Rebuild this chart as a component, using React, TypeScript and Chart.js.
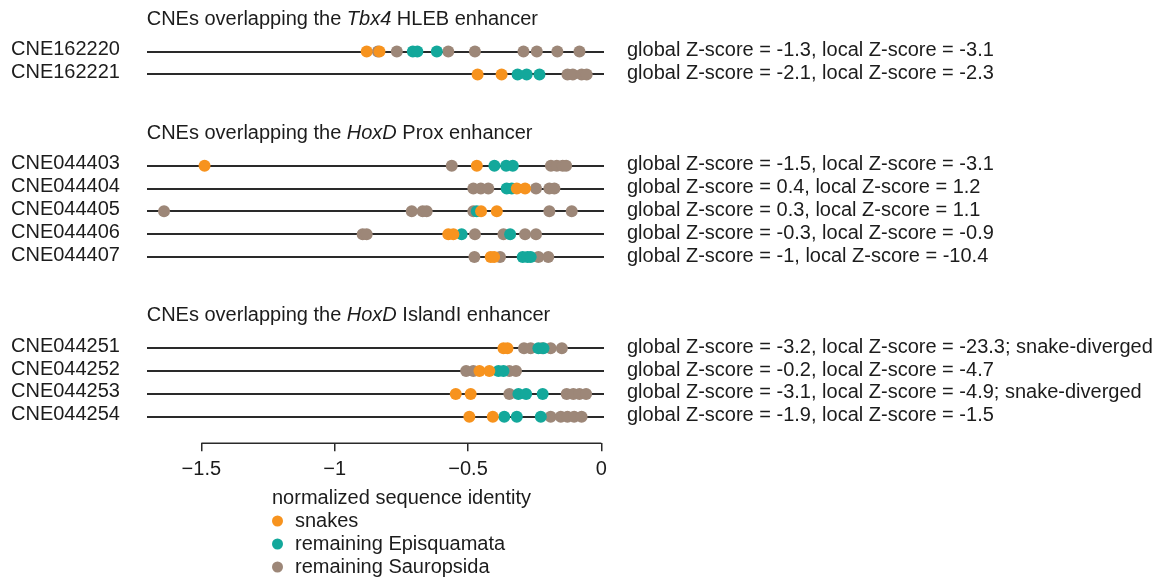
import { useEffect, useRef } from "react";
import { Chart, registerables } from "chart.js";

Chart.register(...registerables);

// Enhancer groups, each listing its CNE rows.
const groupGenes = ["Tbx4", "HoxD", "HoxD"];
const groupEnhancers = ["HLEB", "Prox", "IslandI"];
const groupSizes = [2, 5, 4];

const rowNames = [
  "CNE162220",
  "CNE162221",
  "CNE044403",
  "CNE044404",
  "CNE044405",
  "CNE044406",
  "CNE044407",
  "CNE044251",
  "CNE044252",
  "CNE044253",
  "CNE044254",
];

const zScoreNotes = [
  "global Z-score = -1.3, local Z-score = -3.1",
  "global Z-score = -2.1, local Z-score = -2.3",
  "global Z-score = -1.5, local Z-score = -3.1",
  "global Z-score = 0.4, local Z-score = 1.2",
  "global Z-score = 0.3, local Z-score = 1.1",
  "global Z-score = -0.3, local Z-score = -0.9",
  "global Z-score = -1, local Z-score = -10.4",
  "global Z-score = -3.2, local Z-score = -23.3; snake-diverged",
  "global Z-score = -0.2, local Z-score = -4.7",
  "global Z-score = -3.1, local Z-score = -4.9; snake-diverged",
  "global Z-score = -1.9, local Z-score = -1.5",
];

// Normalized sequence identity per species, one list per CNE row.
const snakes = [
  [-0.88, -0.832],
  [-0.464, -0.374],
  [-1.488, -0.467],
  [-0.317, -0.286],
  [-0.451, -0.392],
  [-0.574, -0.555],
  [-0.415, -0.402],
  [-0.367, -0.352],
  [-0.457, -0.42],
  [-0.546, -0.49],
  [-0.495, -0.407],
];

const episquamata = [
  [-0.707, -0.69, -0.617],
  [-0.314, -0.28, -0.232],
  [-0.401, -0.357, -0.332],
  [-0.355, -0.336],
  [-0.467],
  [-0.524, -0.342],
  [-0.295, -0.277, -0.265],
  [-0.236, -0.217],
  [-0.386, -0.367],
  [-0.311, -0.282, -0.22],
  [-0.364, -0.317, -0.227],
];

const sauropsida = [
  [-0.838, -0.767, -0.574, -0.474, -0.292, -0.242, -0.165, -0.082],
  [-0.127, -0.107, -0.074, -0.055],
  [-0.561, -0.189, -0.167, -0.145, -0.132],
  [-0.48, -0.452, -0.424, -0.245, -0.195, -0.176],
  [-1.64, -0.711, -0.67, -0.655, -0.48, -0.195, -0.111],
  [-0.895, -0.88, -0.474, -0.367, -0.286, -0.245],
  [-0.476, -0.38, -0.236, -0.199],
  [-0.29, -0.265, -0.222, -0.19, -0.148],
  [-0.507, -0.48, -0.345, -0.32],
  [-0.345, -0.13, -0.105, -0.082, -0.057],
  [-0.19, -0.152, -0.127, -0.102, -0.074],
];

const xTicks = [-1.5, -1, -0.5, 0];

const seriesNames = ["snakes", "remaining Episquamata", "remaining Sauropsida"];
const seriesColors = ["#F7931E", "#13A89B", "#9D8778"];

const axisTitle = "normalized sequence identity";

const FONT_FAMILY = '"Liberation Sans", Arial, Helvetica, sans-serif';
const TEXT_COLOR = "#1c1c1c";
const LINE_COLOR = "#2a2a2a";

// Vertical range of the row scale (reversed, top to bottom).
const Y_MIN = -1.998;
const Y_MAX = 17.163;

// Row positions on the vertical scale: rows within a group are one unit
// apart, and three empty units separate consecutive groups.
const rowSlots: number[] = [];
const groupFirstSlot: number[] = [];
{
  let s = 0;
  groupSizes.forEach((n) => {
    groupFirstSlot.push(s);
    for (let i = 0; i < n; i++) rowSlots.push(s + i);
    s += n + 3;
  });
}

const toPoints = (rows: number[][]) =>
  rows.flatMap((vals, r) => vals.map((x) => ({ x, y: rowSlots[r] })));

const decorations = {
  id: "decorations",
  afterDraw(chart: any) {
    const { ctx, chartArea, scales } = chart;
    const xs = scales.x;
    const ys = scales.y;
    ctx.save();

    // x axis baseline spanning the tick range only
    ctx.strokeStyle = LINE_COLOR;
    ctx.lineWidth = 1.5;
    ctx.beginPath();
    ctx.moveTo(xs.getPixelForValue(xTicks[0]), chartArea.bottom);
    ctx.lineTo(xs.getPixelForValue(xTicks[xTicks.length - 1]), chartArea.bottom);
    ctx.stroke();

    // group headers with the gene name in italics
    ctx.fillStyle = TEXT_COLOR;
    ctx.textBaseline = "middle";
    ctx.textAlign = "left";
    groupGenes.forEach((gene, g) => {
      const y = ys.getPixelForValue(groupFirstSlot[g] - 1.42);
      const parts: [string, boolean][] = [
        ["CNEs overlapping the ", false],
        [gene, true],
        [" " + groupEnhancers[g] + " enhancer", false],
      ];
      let x = chartArea.left;
      parts.forEach(([text, italic]) => {
        ctx.font = `${italic ? "italic " : ""}20px ${FONT_FAMILY}`;
        ctx.fillText(text, x, y);
        x += ctx.measureText(text).width;
      });
    });

    // legend block below the x axis
    ctx.font = `20px ${FONT_FAMILY}`;
    const lx = 272;
    ctx.fillText(axisTitle, lx, 498);
    seriesNames.forEach((name, i) => {
      const cy = 521 + i * 23;
      ctx.fillStyle = seriesColors[i];
      ctx.beginPath();
      ctx.arc(lx + 5.5, cy, 5.5, 0, Math.PI * 2);
      ctx.fill();
      ctx.fillStyle = TEXT_COLOR;
      ctx.fillText(name, lx + 23, cy);
    });
    ctx.restore();
  },
};

export default function App() {
  const canvasRef = useRef<HTMLCanvasElement | null>(null);

  useEffect(() => {
    if (!canvasRef.current) return;
    const seriesRows = [snakes, episquamata, sauropsida];
    const chart = new Chart(canvasRef.current, {
      type: "scatter",
      data: {
        datasets: seriesRows.map((rows, i) => ({
          label: seriesNames[i],
          data: toPoints(rows),
          backgroundColor: seriesColors[i],
          borderWidth: 0,
          pointRadius: 6,
          pointHoverRadius: 6,
          yAxisID: "y",
        })),
      },
      options: {
        animation: false,
        responsive: false,
        events: [],
        layout: { padding: { left: 11, right: 0, top: 0, bottom: 0 } },
        plugins: {
          legend: { display: false },
          tooltip: { enabled: false },
        },
        scales: {
          x: {
            type: "linear",
            min: -1.705,
            max: 0.01,
            border: { display: false },
            grid: {
              drawOnChartArea: false,
              drawTicks: true,
              tickLength: 8,
              color: LINE_COLOR,
              lineWidth: 1.5,
            },
            afterBuildTicks: (s: any) => {
              s.ticks = xTicks.map((value) => ({ value }));
            },
            afterFit: (s: any) => {
              s.height = 135.7;
              s.paddingLeft = 0;
              s.paddingRight = 0;
            },
            ticks: {
              autoSkip: false,
              maxRotation: 0,
              padding: 6,
              color: TEXT_COLOR,
              font: { family: FONT_FAMILY, size: 20 },
              callback: (v: any) =>
                Number(v) === 0 ? "0" : "\u2212" + Math.abs(Number(v)),
            },
          },
          y: {
            type: "linear",
            position: "left",
            reverse: true,
            min: Y_MIN,
            max: Y_MAX,
            border: { display: false },
            grid: {
              drawTicks: false,
              color: LINE_COLOR,
              lineWidth: 2,
            },
            afterBuildTicks: (s: any) => {
              s.ticks = rowSlots.map((value) => ({ value }));
            },
            afterFit: (s: any) => {
              s.width = 135.7;
              s.paddingTop = 0;
              s.paddingBottom = 0;
            },
            ticks: {
              autoSkip: false,
              crossAlign: "far",
              padding: 0,
              labelOffset: -2,
              color: TEXT_COLOR,
              font: { family: FONT_FAMILY, size: 20 },
              callback: (v: any) => rowNames[rowSlots.indexOf(Number(v))] ?? "",
            },
          },
          y2: {
            type: "linear",
            position: "right",
            reverse: true,
            min: Y_MIN,
            max: Y_MAX,
            border: { display: false },
            grid: { display: false, drawTicks: false },
            afterBuildTicks: (s: any) => {
              s.ticks = rowSlots.map((value) => ({ value }));
            },
            afterFit: (s: any) => {
              s.width = 562;
              s.paddingTop = 0;
              s.paddingBottom = 0;
            },
            ticks: {
              autoSkip: false,
              crossAlign: "near",
              padding: 23,
              labelOffset: -1,
              color: TEXT_COLOR,
              font: { family: FONT_FAMILY, size: 20 },
              callback: (v: any) =>
                zScoreNotes[rowSlots.indexOf(Number(v))] ?? "",
            },
          },
        },
      },
      plugins: [decorations],
    } as any);
    return () => chart.destroy();
  }, []);

  return (
    <div style={{ position: "absolute", left: 0, top: 0, width: 1166, height: 579 }}>
      <canvas ref={canvasRef} width={1166} height={579} style={{ display: "block" }} />
    </div>
  );
}
